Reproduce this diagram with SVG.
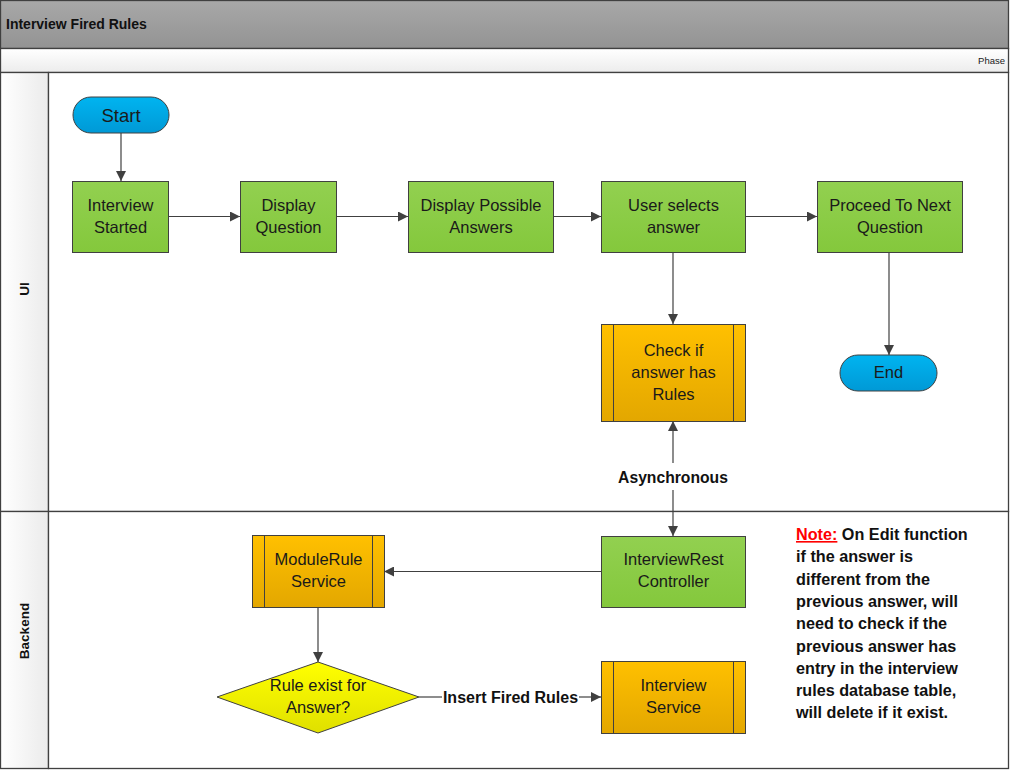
<svg xmlns="http://www.w3.org/2000/svg" width="1010" height="770" viewBox="0 0 1010 770">
<defs>
<linearGradient id="gHead" x1="0" y1="0" x2="0" y2="1"><stop offset="0" stop-color="#a8a8a8"/><stop offset="1" stop-color="#939393"/></linearGradient>
<linearGradient id="gPhase" x1="0" y1="0" x2="0" y2="1"><stop offset="0" stop-color="#ffffff"/><stop offset="1" stop-color="#ececec"/></linearGradient>
<linearGradient id="gLane" x1="0" y1="0" x2="1" y2="0"><stop offset="0" stop-color="#ffffff"/><stop offset="1" stop-color="#ebebeb"/></linearGradient>
<linearGradient id="gGreen" x1="0" y1="0" x2="0" y2="1"><stop offset="0" stop-color="#92d050"/><stop offset="1" stop-color="#84c83c"/></linearGradient>
<linearGradient id="gOrange" x1="0" y1="0" x2="0" y2="1"><stop offset="0" stop-color="#ffc000"/><stop offset="1" stop-color="#e3a700"/></linearGradient>
<linearGradient id="gBlue" x1="0" y1="0" x2="0" y2="1"><stop offset="0" stop-color="#00b4f0"/><stop offset="1" stop-color="#0099d6"/></linearGradient>
<linearGradient id="gYellow" x1="0" y1="0" x2="0" y2="1"><stop offset="0" stop-color="#ffff00"/><stop offset="1" stop-color="#e0e000"/></linearGradient>
<marker id="arr" viewBox="0 0 10 10" refX="10" refY="5" markerWidth="10" markerHeight="10" markerUnits="userSpaceOnUse" orient="auto-start-reverse">
<path d="M0,0 L10,5 L0,10 Z" fill="#404040"/>
</marker>
</defs>
<style>
.box{stroke:#404040;stroke-width:1}
.green{fill:url(#gGreen)}
.orange{fill:url(#gOrange)}
.blue{fill:url(#gBlue)}
.yellow{fill:url(#gYellow)}
.sub{stroke:#404040;stroke-width:1;fill:none}
.t{font-family:"Liberation Sans",Arial,sans-serif;font-size:16.5px;fill:#1a1a1a;text-anchor:middle}
.tb{font-family:"Liberation Sans",Arial,sans-serif;font-weight:bold;fill:#111}
.note{font-size:16.2px}
.conn{stroke:#404040;stroke-width:1.2;fill:none}
</style>
<rect x="0" y="0" width="1010" height="770" fill="#ffffff"/>
<g id="pool">
<rect x="0.5" y="0.5" width="1008" height="48" fill="url(#gHead)" stroke="#404040" stroke-width="1.3"/>
<text class="tb" x="6" y="29" font-size="14">Interview Fired Rules</text>
<rect x="0.5" y="48.5" width="1008" height="24" fill="url(#gPhase)" stroke="#404040" stroke-width="1.3"/>
<text class="t" x="1005" y="64" style="text-anchor:end;font-size:9.5px">Phase</text>
</g>
<g id="lane-ui">
<rect x="0.5" y="72.5" width="48" height="439" fill="url(#gLane)" stroke="#404040" stroke-width="1.3"/>
<rect x="48.5" y="72.5" width="960" height="439" fill="#ffffff" stroke="#404040" stroke-width="1.3"/>
<text class="tb" font-size="13.5" text-anchor="middle" transform="translate(29,289) rotate(-90)">UI</text>
</g>
<g id="lane-backend">
<rect x="0.5" y="511.5" width="48" height="257" fill="url(#gLane)" stroke="#404040" stroke-width="1.3"/>
<rect x="48.5" y="511.5" width="960" height="257" fill="#ffffff" stroke="#404040" stroke-width="1.3"/>
<text class="tb" font-size="13.5" text-anchor="middle" transform="translate(29,631) rotate(-90)">Backend</text>
</g>

<g id="connectors">
<line class="conn" x1="121" y1="133" x2="121" y2="181" marker-end="url(#arr)"/>
<line class="conn" x1="169" y1="216.5" x2="240" y2="216.5" marker-end="url(#arr)"/>
<line class="conn" x1="336" y1="216.5" x2="408" y2="216.5" marker-end="url(#arr)"/>
<line class="conn" x1="553" y1="216.5" x2="601" y2="216.5" marker-end="url(#arr)"/>
<line class="conn" x1="745" y1="216.5" x2="817" y2="216.5" marker-end="url(#arr)"/>
<line class="conn" x1="673" y1="252" x2="673" y2="324" marker-end="url(#arr)"/>
<line class="conn" x1="889" y1="252" x2="889" y2="355" marker-end="url(#arr)"/>
<line class="conn" x1="673" y1="463" x2="673" y2="421" marker-end="url(#arr)"/>
<line class="conn" x1="673" y1="490" x2="673" y2="536" marker-end="url(#arr)"/>
<text class="tb" x="673" y="483" font-size="15.7" text-anchor="middle">Asynchronous</text>
<line class="conn" x1="601" y1="571.5" x2="384" y2="571.5" marker-end="url(#arr)"/>
<line class="conn" x1="318" y1="607" x2="318" y2="662" marker-end="url(#arr)"/>
<line class="conn" x1="419" y1="697" x2="442" y2="697"/>
<line class="conn" x1="579" y1="697" x2="601" y2="697" marker-end="url(#arr)"/>
<text class="tb" x="510.5" y="702.5" font-size="16" text-anchor="middle">Insert Fired Rules</text>
</g>

<g id="start">
<rect class="box blue" x="73" y="97" width="96" height="36" rx="18"/>
<text class="t" x="121" y="121.5" style="font-size:18.5px">Start</text>
</g>
<g id="interview-started">
<rect class="box green" x="72.5" y="181.5" width="96" height="71"/>
<text class="t" x="120.5" y="211">Interview</text>
<text class="t" x="120.5" y="233">Started</text>
</g>
<g id="display-question">
<rect class="box green" x="240.5" y="181.5" width="96" height="71"/>
<text class="t" x="288.5" y="211">Display</text>
<text class="t" x="288.5" y="233">Question</text>
</g>
<g id="display-possible-answers">
<rect class="box green" x="408.5" y="181.5" width="145" height="71"/>
<text class="t" x="481" y="211">Display Possible</text>
<text class="t" x="481" y="233">Answers</text>
</g>
<g id="user-selects-answer">
<rect class="box green" x="601.5" y="181.5" width="144" height="71"/>
<text class="t" x="673.5" y="211">User selects</text>
<text class="t" x="673.5" y="233">answer</text>
</g>
<g id="proceed-next">
<rect class="box green" x="817.5" y="181.5" width="145" height="71"/>
<text class="t" x="890" y="211">Proceed To Next</text>
<text class="t" x="890" y="233">Question</text>
</g>
<g id="check-rules">
<rect class="box orange" x="601.5" y="324.5" width="144" height="97"/>
<line class="sub" x1="613.5" y1="324.5" x2="613.5" y2="421.5"/>
<line class="sub" x1="733.5" y1="324.5" x2="733.5" y2="421.5"/>
<text class="t" x="673.5" y="356">Check if</text>
<text class="t" x="673.5" y="378">answer has</text>
<text class="t" x="673.5" y="400">Rules</text>
</g>
<g id="end">
<rect class="box blue" x="840" y="355" width="97" height="36" rx="18"/>
<text class="t" x="888.5" y="378">End</text>
</g>
<g id="interviewrest-controller">
<rect class="box green" x="601.5" y="536.5" width="144" height="71"/>
<text class="t" x="673.5" y="565">InterviewRest</text>
<text class="t" x="673.5" y="587">Controller</text>
</g>
<g id="modulerule-service">
<rect class="box orange" x="252.5" y="535.5" width="132" height="72"/>
<line class="sub" x1="264.5" y1="535.5" x2="264.5" y2="607.5"/>
<line class="sub" x1="372.5" y1="535.5" x2="372.5" y2="607.5"/>
<text class="t" x="318.5" y="565">ModuleRule</text>
<text class="t" x="318.5" y="587">Service</text>
</g>
<g id="rule-exist">
<polygon class="box yellow" points="318,662 419,697 318,733 217,697"/>
<text class="t" x="318" y="691">Rule exist for</text>
<text class="t" x="318" y="713">Answer?</text>
</g>
<g id="interview-service">
<rect class="box orange" x="601.5" y="661.5" width="144" height="72"/>
<line class="sub" x1="613.5" y1="661.5" x2="613.5" y2="733.5"/>
<line class="sub" x1="733.5" y1="661.5" x2="733.5" y2="733.5"/>
<text class="t" x="673.5" y="691">Interview</text>
<text class="t" x="673.5" y="713">Service</text>
</g>
<g id="note">
<text class="tb note" x="796" y="540"><tspan fill="#ff0000" text-decoration="underline">Note:</tspan> On Edit function</text>
<text class="tb note" x="796" y="562.3">if the answer is</text>
<text class="tb note" x="796" y="584.6">different from the</text>
<text class="tb note" x="796" y="606.9">previous answer, will</text>
<text class="tb note" x="796" y="629.2">need to check if the</text>
<text class="tb note" x="796" y="651.5">previous answer has</text>
<text class="tb note" x="796" y="673.8">entry in the interview</text>
<text class="tb note" x="796" y="696.1">rules database table,</text>
<text class="tb note" x="796" y="718.4">will delete if it exist.</text>
</g>
</svg>
